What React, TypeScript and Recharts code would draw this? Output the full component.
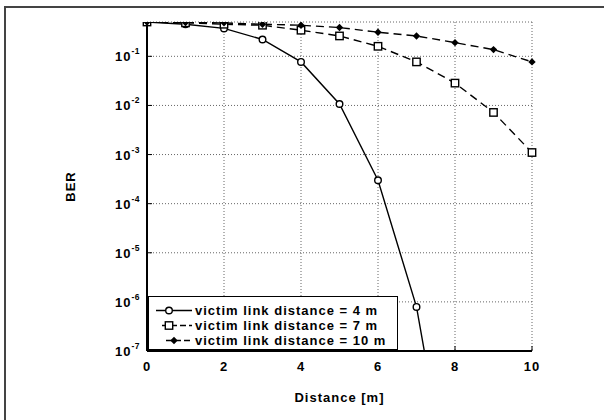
import React from 'react';
import { LineChart, Line, XAxis, YAxis, CartesianGrid, Legend } from 'recharts';

const distance = [0, 1, 2, 3, 4, 5, 6, 7, 8, 9, 10];
const ber4m = [0.5, 0.45, 0.37, 0.22, 0.077, 0.0107, 3e-4, 7.9e-7, 3e-11, null, null];
const ber7m = [0.5, 0.48, 0.45, 0.43, 0.34, 0.26, 0.16, 0.077, 0.0285, 0.0072, 0.0011];
const ber10m = [0.5, 0.49, 0.48, 0.45, 0.43, 0.385, 0.31, 0.26, 0.19, 0.137, 0.077];

const xTicks = [0, 2, 4, 6, 8, 10];
const yTicks = [1e-7, 1e-6, 1e-5, 1e-4, 1e-3, 1e-2, 1e-1];
const seriesNames = [
  'victim link distance = 4 m',
  'victim link distance = 7 m',
  'victim link distance = 10 m',
];

const data = distance.map((d, i) => ({
  distance: d,
  ber4m: ber4m[i],
  ber7m: ber7m[i],
  ber10m: ber10m[i],
}));

const FONT = '"Liberation Sans", Arial, sans-serif';
const DASH = '8 5';
const textStyle = { fill: '#000', fontFamily: FONT, fontWeight: 'bold', fontSize: 13, letterSpacing: 1 };

function CircleMark({ cx, cy }: any) {
  return <circle cx={cx} cy={cy} r={3.3} fill="#fff" stroke="#000" strokeWidth={1.4} />;
}
function SquareMark({ cx, cy }: any) {
  return <rect x={cx - 3.7} y={cy - 3.7} width={7.4} height={7.4} fill="#fff" stroke="#000" strokeWidth={1.4} />;
}
function DiamondMark({ cx, cy }: any) {
  return <polygon points={`${cx},${cy - 3.7} ${cx + 3.7},${cy} ${cx},${cy + 3.7} ${cx - 3.7},${cy}`} fill="#000" />;
}

const dotFn = (Mark: any) => (p: any) => {
  const k = p.key ?? `d${p.index}`;
  if (p.cx == null || p.cy == null || p.value == null) return <g key={k} />;
  return <Mark key={k} cx={p.cx} cy={p.cy} />;
};

function YTick({ x, y, payload }: any) {
  const exp = Math.round(Math.log10(payload.value));
  return (
    <text x={x} y={y} textAnchor="end" dominantBaseline="central" fontFamily={FONT} fontWeight="bold" fontSize={13} letterSpacing={1} fill="#000">
      <tspan>10</tspan>
      <tspan fontSize={8.5} letterSpacing={0.5} dy={-5}>{exp}</tspan>
    </text>
  );
}

const EmptyTick = () => <g />;

const marks = [CircleMark, SquareMark, DiamondMark];

function renderLegend() {
  return (
    <div
      style={{
        border: '1.5px solid #000',
        background: '#fff',
        width: 250,
        height: 54,
        boxSizing: 'border-box',
        padding: '6px 0 0 5px',
        fontFamily: FONT,
        fontWeight: 'bold',
        fontSize: 13,
        letterSpacing: 1,
        color: '#000',
        whiteSpace: 'nowrap',
      }}
    >
      {seriesNames.map((name, i) => {
        const Mark = marks[i];
        return (
          <div key={name} style={{ display: 'flex', alignItems: 'center', height: 15, lineHeight: '15px' }}>
            <svg width={41} height={15} style={{ flex: 'none' }}>
              <line
                x1={i === 0 ? 2 : i === 1 ? 8 : 12}
                x2={38}
                y1={7.5}
                y2={7.5}
                stroke="#000"
                strokeWidth={1.3}
                strokeDasharray={i === 0 ? undefined : '6 3'}
              />
              <Mark cx={i === 2 ? 20 : 15} cy={7.5} />
            </svg>
            <span>{name}</span>
          </div>
        );
      })}
    </div>
  );
}

export default function App() {
  return (
    <div style={{ position: 'absolute', left: 0, top: 0, width: 604, height: 420, background: '#fff' }}>
      <div
        style={{
          position: 'absolute',
          left: 4,
          top: 6,
          width: 600,
          height: 414,
          borderTop: '2px solid #444',
          borderLeft: '2px solid #444',
        }}
      />
      <div style={{ position: 'absolute', left: 0, top: 0 }}>
        <LineChart width={604} height={420} data={data} margin={{ top: 22, right: 72, bottom: 14, left: 47 }}>
          <CartesianGrid stroke="#666" strokeDasharray="1 2" />
          <XAxis
            dataKey="distance"
            type="number"
            domain={[0, 10]}
            ticks={xTicks}
            interval={0}
            height={55}
            tickSize={-5}
            tickMargin={16}
            axisLine={{ stroke: '#000', strokeWidth: 2 }}
            tickLine={{ stroke: '#000' }}
            tick={textStyle}
            label={{
              value: 'Distance [m]',
              position: 'insideBottom',
              offset: 4,
              style: textStyle,
            }}
          />
          <XAxis
            xAxisId="top"
            orientation="top"
            type="number"
            domain={[0, 10]}
            ticks={xTicks}
            interval={0}
            allowDataOverflow
            height={0}
            tickSize={-5}
            tick={EmptyTick}
            axisLine={{ stroke: '#000', strokeWidth: 2 }}
            tickLine={{ stroke: '#000' }}
          />
          <YAxis
            scale="log"
            type="number"
            domain={[1e-7, 0.5]}
            ticks={yTicks}
            interval={0}
            allowDataOverflow
            width={100}
            tickSize={-5}
            tickMargin={12}
            axisLine={{ stroke: '#000', strokeWidth: 2 }}
            tickLine={{ stroke: '#000' }}
            tick={YTick}
            label={{
              value: 'BER',
              angle: -90,
              position: 'insideLeft',
              offset: 23,
              textAnchor: 'middle',
              style: textStyle,
            }}
          />
          <YAxis
            yAxisId="right"
            orientation="right"
            scale="log"
            type="number"
            domain={[1e-7, 0.5]}
            ticks={yTicks}
            interval={0}
            allowDataOverflow
            width={0}
            tickSize={-5}
            tick={EmptyTick}
            axisLine={{ stroke: '#000', strokeWidth: 2 }}
            tickLine={{ stroke: '#000' }}
          />
          <Legend
            layout="horizontal"
            verticalAlign="middle"
            align="center"
            content={renderLegend}
            wrapperStyle={{ left: 148, top: 296, width: 250, height: 54 }}
          />
          <Line
            dataKey="ber4m"
            name={seriesNames[0]}
            type="linear"
            stroke="#000"
            strokeWidth={1.4}
            dot={dotFn(CircleMark)}
            isAnimationActive={false}
          />
          <Line
            dataKey="ber7m"
            name={seriesNames[1]}
            type="linear"
            stroke="#000"
            strokeWidth={1.4}
            strokeDasharray={DASH}
            dot={dotFn(SquareMark)}
            isAnimationActive={false}
          />
          <Line
            dataKey="ber10m"
            name={seriesNames[2]}
            type="linear"
            stroke="#000"
            strokeWidth={1.4}
            strokeDasharray={DASH}
            dot={dotFn(DiamondMark)}
            isAnimationActive={false}
          />
        </LineChart>
      </div>
    </div>
  );
}
